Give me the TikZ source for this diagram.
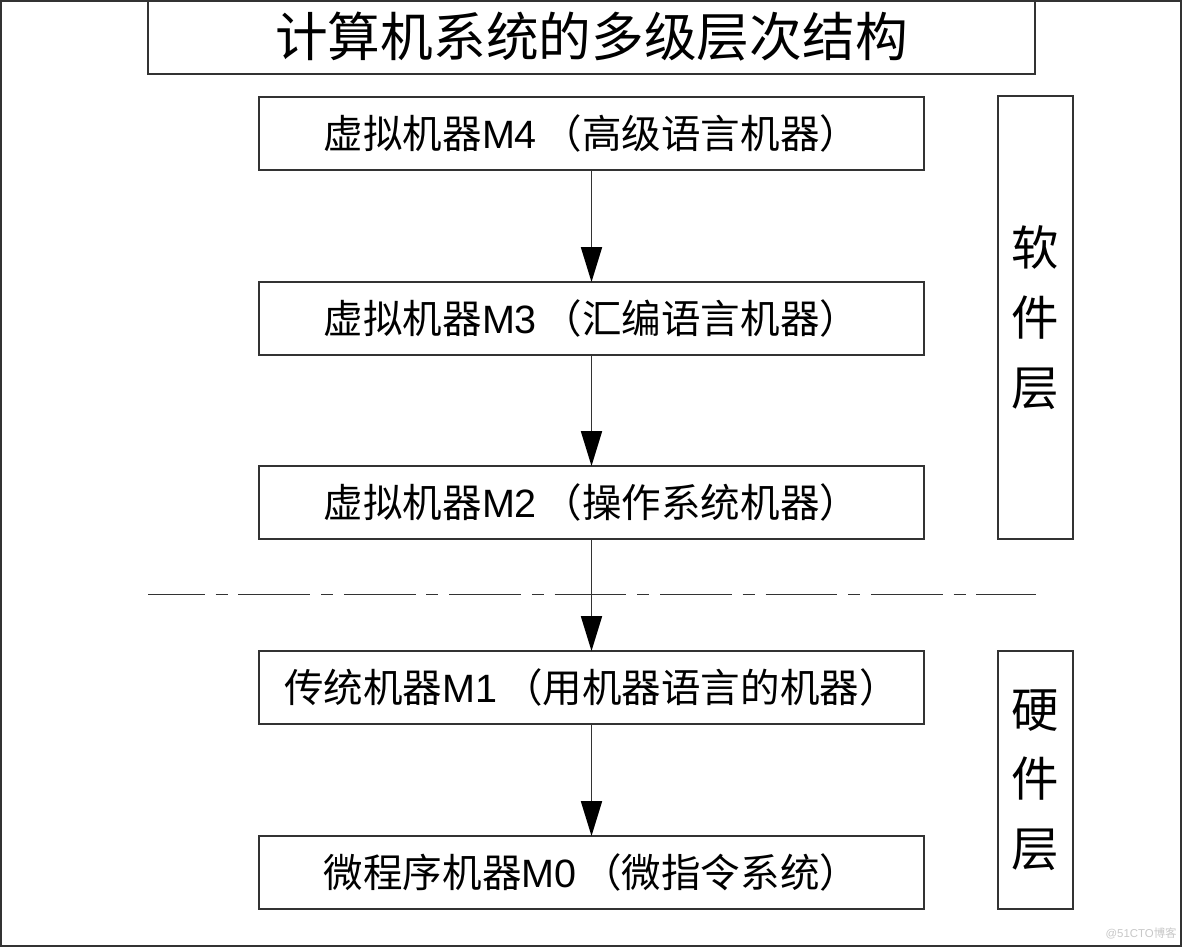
\documentclass[tikz,border=0pt]{standalone}
\usepackage{fontspec}
\setmainfont{Liberation Sans}
\newfontfamily\cjk{Noto Sans CJK SC}
\usetikzlibrary{arrows.meta}
\definecolor{ln}{HTML}{333333}
\newcommand{\lp}{\hspace{0.15em}{\cjk （}}
\tikzset{
  box/.style={draw=ln, line width=0.85pt, inner sep=0pt, outer sep=0pt, minimum width=13.3cm, minimum height=1.46cm, font=\fontsize{22.5}{27}\selectfont},
  sidebox/.style={draw=ln, line width=0.85pt, inner sep=0pt, outer sep=0pt, minimum width=1.5cm, align=center, font=\fontsize{27}{39.7}\selectfont\cjk},
  conn/.style={draw=ln, line width=0.7pt, -{Triangle[length=19.8pt,width=12pt,fill=black,color=black]}},
}
\begin{document}
\begin{tikzpicture}[x=0.02cm, y=-0.02cm]
\useasboundingbox (0,0) rectangle (1184,947);
\draw[ln, line width=1pt] (1,1) rectangle (1181,946);
\node[draw=ln, line width=0.85pt, inner sep=0pt, outer sep=0pt, minimum width=17.74cm, minimum height=1.48cm, font=\fontsize{30}{36}\selectfont\cjk] (title) at (591.5,37) {计算机系统的多级层次结构};
\node[box] (m4) at (591.5,133.5) {{\cjk 虚拟机器}M4\lp{\cjk 高级语言机器）}};
\node[box] (m3) at (591.5,318.5) {{\cjk 虚拟机器}M3\lp{\cjk 汇编语言机器）}};
\node[box] (m2) at (591.5,502.5) {{\cjk 虚拟机器}M2\lp{\cjk 操作系统机器）}};
\node[box] (m1) at (591.5,687.5) {{\cjk 传统机器}M1\lp{\cjk 用机器语言的机器）}};
\node[box] (m0) at (591.5,872.5) {{\cjk 微程序机器}M0\lp{\cjk 微指令系统）}};
\node[sidebox, minimum height=8.86cm] (sw) at (1035.5,317.5) {软\\件\\层};
\node[sidebox, minimum height=5.16cm] (hw) at (1035.5,780) {硬\\件\\层};
\coordinate (dl) at (148,594.5);
\coordinate (dr) at (1036,594.5);
\draw[ln, line width=0.85pt, dash pattern=on 40.8pt off 6.2pt on 6.8pt off 6.2pt, dash phase=8.5pt] (dl) -- (dr);
\draw[conn] (m4) -- (m3);
\draw[conn] (m3) -- (m2);
\draw[conn] (m2) -- (m1);
\draw[conn] (m1) -- (m0);
\node[text=black!22, anchor=east, inner sep=0pt, font=\fontsize{6.5}{8}\selectfont] (wm) at (1177,933) {@51CTO{\cjk 博客}};
\end{tikzpicture}
\end{document}
